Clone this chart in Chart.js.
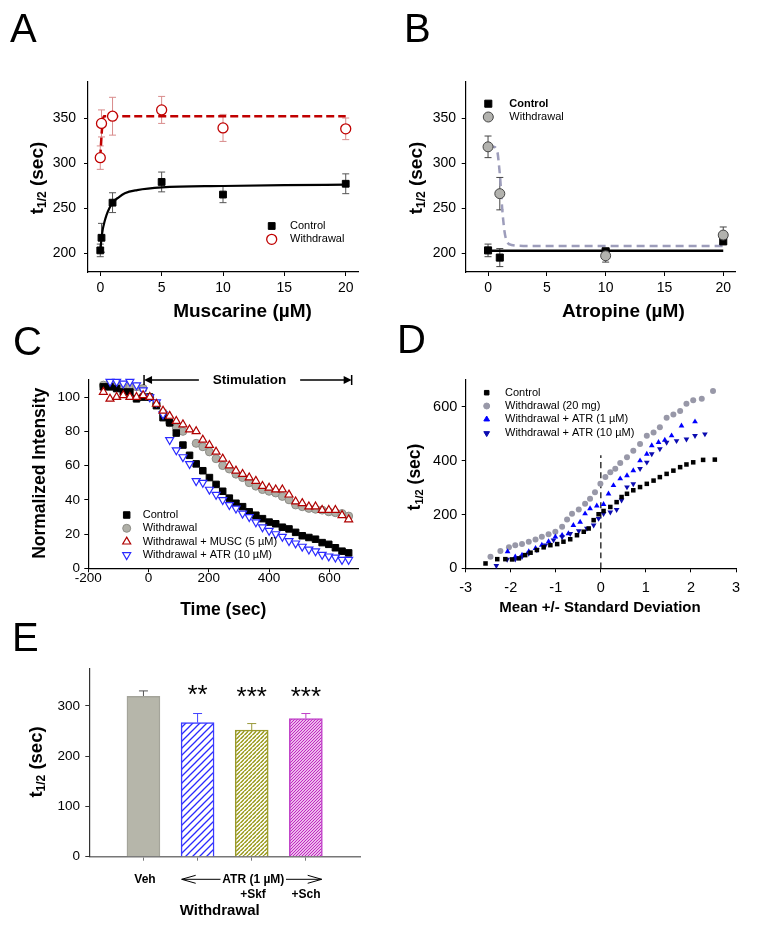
<!DOCTYPE html>
<html>
<head>
<meta charset="utf-8">
<script src="https://cdn.jsdelivr.net/npm/chart.js@4.4.0/dist/chart.umd.min.js"></script>
<style>
  body { margin: 0; background: #fff; }
  #fig { position: relative; width: 759px; height: 935px; }
  #fig canvas { position: absolute; }
</style>
</head>
<body>
<div id="fig">
  <canvas id="cA" width="380" height="330" style="left:0;top:0"></canvas>
  <canvas id="cB" width="379" height="330" style="left:380px;top:0"></canvas>
  <canvas id="cC" width="380" height="310" style="left:0;top:320px"></canvas>
  <canvas id="cD" width="379" height="310" style="left:380px;top:320px"></canvas>
  <canvas id="cE" width="380" height="320" style="left:0;top:615px"></canvas>
</div>
<script>
'use strict';

// ---------- A: muscarine ----------
const aDose = [0, 0.1, 1, 5, 10, 20];
const aCtrl = [203, 217, 256, 279, 265, 277];
const aCtrlErr = [7, 16, 11, 11, 9, 11];
const aWd = [306, 344, 352, 359, 339, 338];
const aWdErr = [13, 15, 21, 15, 15, 12];
const aCtrlFitX = [0, 0.1, 0.2, 0.35, 0.5, 0.75, 1, 1.5, 2, 3, 5, 10, 15, 20];
const aCtrlFitY = [203, 216, 226, 235, 242, 250, 256, 262, 266.5, 270, 273, 274.5, 275.5, 276];
const aWdFitX = [0, 0.1, 0.2, 0.3, 20];
const aWdFitY = [306, 330, 347, 352, 352];
const aTicksX = [0, 5, 10, 15, 20];
const aTicksY = [200, 250, 300, 350];

// ---------- B: atropine ----------
const bDose = [0, 1, 10, 20];
const bCtrl = [203, 195, 202, 213];
const bCtrlErr = [7, 10, 3, 3];
const bWd = [318, 266, 197, 220];
const bWdErr = [12, 18, 7, 9];
const bCtrlFitX = [0, 20];
const bCtrlFitY = [202.5, 202.5];
const bWdFitX = [0, 0.5, 0.8, 0.95, 1.05, 1.2, 1.4, 1.6, 2, 3, 20];
const bWdFitY = [319, 318, 312, 295, 280, 250, 224, 213, 209, 208, 208];
const bTicksX = [0, 5, 10, 15, 20];
const bTicksY = [200, 250, 300, 350];

// ---------- C: intensidade normalizada ----------
const cTime = [-150, -128, -106, -84, -62, -40, -18, 4, 26, 48, 70, 92, 114, 136, 158, 180, 202, 224, 246, 268,
               290, 312, 334, 356, 378, 400, 422, 444, 466, 488, 510, 532, 554, 576, 598, 620, 642, 664];
const cCtrl = [106, 106, 105, 103, 103, 99, 100, 100, 95, 88, 85, 79, 72, 66, 61, 57, 53, 49, 45, 41,
               38, 36, 33, 31, 29, 27, 26, 24, 23, 21, 19, 18, 17, 15, 14, 12, 10, 9];
const cWd = [107, 108, 107, 106, 106, 106, 105, 100, 96, 91, 85, 82, 80, null, 73, 71, 68, 64, 60, 58,
             55, 53, 50, 48, 46, 45, 44, 42, 40, 37, 36, 35, 34.5, 34, 33, 32.5, 32, 30.5];
const cMusc = [103, 99, 100, 101, 100, 100, 101, 100, 96, 92, 89, 86, 84, 81, 80, 75, 72, 68, 64, 60,
               57, 55, 53, 51, 48, 47, 46, 46, 43, 39, 38, 36, 36, 34, 34, 34, 31, 28.5];
const cAtr = [null, 109, 109, 108, 109, 107, 104, 100, 97, 90, 75, 69, 65, 61, 51, 50, 46, 43, 40, 37,
              35, 32, 30, 27, 24, 22, 20, 18.5, 16, 14.6, 12.7, 11, 10, 8, 7, 6.4, 5, 5];
const cTicksX = [-200, 0, 200, 400, 600];
const cTicksY = [0, 20, 40, 60, 80, 100];
const stimStart = -15, stimEnd = 674, stimLevel = 110;
const stimGap = [167, 503];

// ---------- D: distribuição ----------
const dCtrlX = [-2.56, -2.30, -2.12, -1.97, -1.82, -1.68, -1.56, -1.42, -1.27, -1.12, -0.97, -0.83, -0.68, -0.53, -0.38,
                -0.27, -0.16, -0.05, 0.06, 0.21, 0.35, 0.46, 0.58, 0.72, 0.87, 1.02, 1.17, 1.31, 1.46, 1.61, 1.76, 1.90, 2.05, 2.27, 2.53];
const dCtrlY = [18, 34, 34, 33, 37, 49, 58, 68, 78, 86, 90, 99, 108, 123, 136,
                148, 179, 201, 213, 228, 246, 265, 277, 290, 302, 314, 326, 339, 351, 363, 376, 386, 394, 403, 404];
const dWdX = [-2.45, -2.23, -2.04, -1.90, -1.75, -1.60, -1.45, -1.31, -1.16, -1.01, -0.86, -0.75, -0.64, -0.49, -0.35,
              -0.24, -0.13, -0.01, 0.10, 0.21, 0.32, 0.43, 0.58, 0.72, 0.87, 1.02, 1.17, 1.31, 1.46, 1.61, 1.76, 1.90, 2.05, 2.24, 2.49];
const dWdY = [43, 64, 78, 86, 90, 99, 107, 117, 127, 136, 154, 181, 203, 219, 240,
              259, 283, 314, 339, 357, 370, 391, 413, 437, 462, 493, 505, 524, 560, 572, 585, 612, 625, 630, 659];
const dAtr1X = [-2.07, -1.90, -1.75, -1.60, -1.45, -1.31, -1.16, -1.01, -0.86, -0.72, -0.61, -0.46, -0.35, -0.24, -0.09,
                0.06, 0.17, 0.28, 0.43, 0.58, 0.72, 0.87, 1.02, 1.13, 1.28, 1.42, 1.57, 1.79, 2.09];
const dAtr1Y = [62, 43, 49, 62, 74, 86, 99, 117, 123, 129, 160, 172, 203, 222, 232,
                238, 277, 308, 333, 345, 363, 400, 425, 456, 468, 477, 493, 530, 545];
const dAtr10X = [-2.32, -2.08, -1.90, -1.75, -1.60, -1.42, -1.23, -1.05, -0.86, -0.68, -0.49, -0.31, -0.16, -0.05, 0.06,
                 0.21, 0.35, 0.46, 0.58, 0.72, 0.87, 1.02, 1.13, 1.31, 1.46, 1.68, 1.90, 2.09, 2.31];
const dAtr10Y = [10, 33, 34, 43, 55, 68, 86, 105, 117, 129, 139, 148, 160, 185, 203,
                 209, 218, 253, 302, 314, 370, 394, 425, 444, 468, 474, 480, 493, 499];
const dZeroX = [0, 0];
const dZeroY = [0, 420];
const dTicksX = [-3, -2, -1, 0, 1, 2, 3];
const dTicksY = [0, 200, 400, 600];

// ---------- E: barras ----------
const eX = [1, 2, 3, 4];
const eVals = [319, 267, 252, 275];
const eErr = [11, 18, 13, 10];
const eStars = ['', '**', '***', '***'];
const eTicksX = [1, 2, 3, 4];
const eTicksY = [0, 100, 200, 300];

const FONT = '"Liberation Sans", Arial, Helvetica, sans-serif';
Chart.defaults.font.family = FONT;
Chart.defaults.color = '#000';
Chart.defaults.animation = false;
Chart.defaults.plugins.legend.display = false;
Chart.defaults.plugins.tooltip.enabled = false;

function pts(xs, ys)
{
    return xs.map((x, i) => ({ x: x, y: ys[i] }));
}

function fnt(size, bold)
{
    return (bold ? 'bold ' : '') + size + 'px ' + FONT;
}

// eixo linear com ticks fixos; box = largura (y) ou altura (x) reservada ao eixo
function linAxis(min, max, ticks, size, pad, box, col)
{
    return {
        type: 'linear', min: min, max: max, offset: false,
        afterBuildTicks: s => { s.ticks = ticks.map(v => ({ value: v })); },
        afterFit: s => { if (s.isHorizontal()) s.height = box; else s.width = box; },
        grid: { offset: false, drawOnChartArea: false, drawTicks: true, tickLength: 4, tickColor: col || '#000', tickWidth: 1 },
        border: { display: true, color: col || '#000', width: 1.2 },
        ticks: { font: { size: size }, color: '#000', padding: pad, autoSkip: false, maxRotation: 0 }
    };
}

function marks(xs, ys, style)
{
    return Object.assign({ data: pts(xs, ys), showLine: false, clip: false }, style);
}

function curve(xs, ys, color, width, dash)
{
    return {
        data: pts(xs, ys), showLine: true, pointRadius: 0, borderColor: color, borderWidth: width,
        borderDash: dash || [], cubicInterpolationMode: 'monotone', fill: false
    };
}

const errorBars = {
    id: 'errorBars',
    beforeDatasetsDraw(chart) {
        const ctx = chart.ctx, ys = chart.scales.y;
        chart.data.datasets.forEach((ds, i) => {
            if (!ds.errors) return;
            const meta = chart.getDatasetMeta(i);
            meta.data.forEach((el, j) => {
                const v = ds.data[j].y, e = ds.errors[j];
                if (v == null || !e) return;
                const x = el.x, c = ds.errorCap / 2;
                const top = ys.getPixelForValue(v + e);
                const bot = ds.errorUp ? ys.getPixelForValue(v) : ys.getPixelForValue(v - e);
                ctx.save();
                ctx.strokeStyle = Array.isArray(ds.errorColor) ? ds.errorColor[j] : ds.errorColor;
                ctx.lineWidth = ds.errorWidth || 1;
                ctx.beginPath();
                ctx.moveTo(x, top); ctx.lineTo(x, bot);
                ctx.moveTo(x - c, top); ctx.lineTo(x + c, top);
                if (!ds.errorUp) { ctx.moveTo(x - c, bot); ctx.lineTo(x + c, bot); }
                ctx.stroke();
                ctx.restore();
            });
        });
    }
};

// texto com partes (para o subscrito de t1/2), opcionalmente rodado
function drawText(ctx, t)
{
    const parts = t.parts || [[t.text, t.size, t.bold, 0]];
    ctx.save();
    ctx.translate(t.x, t.y);
    if (t.rotate) ctx.rotate(-Math.PI / 2);
    ctx.fillStyle = '#000';
    ctx.textBaseline = t.baseline || 'middle';
    ctx.textAlign = 'left';
    let w = 0;
    parts.forEach(p => { ctx.font = fnt(p[1], p[2]); w += ctx.measureText(p[0]).width; });
    let x = t.align === 'left' ? 0 : -w / 2;
    parts.forEach(p => {
        ctx.font = fnt(p[1], p[2]);
        ctx.fillText(p[0], x, p[3] || 0);
        x += ctx.measureText(p[0]).width;
    });
    ctx.restore();
}

function drawLegend(chart, lg)
{
    const ctx = chart.ctx;
    lg.entries.forEach((e, k) => {
        const ds = chart.data.datasets[e.ds];
        const y = lg.rows[k];
        ctx.save();
        ctx.fillStyle = ds.pointBackgroundColor;
        ctx.strokeStyle = ds.pointBorderColor;
        ctx.lineWidth = ds.pointBorderWidth || 1;
        Chart.helpers.drawPoint(ctx, {
            pointStyle: ds.pointStyle, radius: ds.pointRadius,
            rotation: ds.pointRotation || 0, borderWidth: ds.pointBorderWidth || 1
        }, lg.markerX, y);
        ctx.restore();
        ctx.save();
        ctx.font = fnt(lg.size, e.bold);
        ctx.fillStyle = '#000';
        ctx.textAlign = 'left';
        ctx.textBaseline = 'middle';
        ctx.fillText(e.label, lg.textX, y);
        ctx.restore();
    });
}

function extras(cfg)
{
    return {
        id: 'extras',
        afterDraw(chart) {
            const ctx = chart.ctx;
            (cfg.texts || []).forEach(t => drawText(ctx, t));
            if (cfg.legend) drawLegend(chart, cfg.legend);
            if (cfg.draw) { ctx.save(); cfg.draw(chart, ctx); ctx.restore(); }
        }
    };
}

function letter(ch, x, y)
{
    return { text: ch, size: 40, bold: false, x: x, y: y, align: 'left', baseline: 'alphabetic' };
}

function tHalf(x, y, size)
{
    return { x: x, y: y, rotate: true, parts: [['t', size, true, 0], ['1/2', Math.round(size * 0.63), true, size * 0.28], [' (sec)', size, true, 0]] };
}

function makeScatter(id, datasets, xAxis, yAxis, pad, cfg)
{
    return new Chart(document.getElementById(id), {
        type: 'scatter',
        data: { datasets: datasets },
        options: { responsive: false, layout: { padding: pad }, scales: { x: xAxis, y: yAxis } },
        plugins: [errorBars, extras(cfg)]
    });
}

// ---------- painel A ----------
makeScatter('cA', [
    marks(aDose, aWd, { pointStyle: 'circle', pointRadius: 5, pointBackgroundColor: '#fff', pointBorderColor: '#c00000',
        pointBorderWidth: 1.3, errors: aWdErr, errorColor: '#d98c8c', errorCap: 7 }),
    marks(aDose, aCtrl, { pointStyle: 'rect', pointRadius: 4.8, pointBackgroundColor: '#000', pointBorderColor: '#000',
        pointBorderWidth: 1, errors: aCtrlErr, errorColor: '#555', errorCap: 7 }),
    curve(aWdFitX, aWdFitY, '#c00000', 2.5, [8, 4]),
    curve(aCtrlFitX, aCtrlFitY, '#000', 2.2)
], linAxis(-1, 21, aTicksX, 14, 3.5, 58), linAxis(179, 390, aTicksY, 14, 8, 88),
{ left: 0, top: 82, right: 22, bottom: 0 },
{
    texts: [
        letter('A', 10, 42),
        { text: 'Muscarine (\u00b5M)', size: 19, bold: true, x: 242.5, y: 312 },
        tHalf(37.5, 178, 19)
    ],
    legend: { markerX: 271.7, textX: 290, rows: [226, 239.3], size: 11,
        entries: [{ ds: 1, label: 'Control' }, { ds: 0, label: 'Withdrawal' }] }
});

// ---------- painel B ----------
makeScatter('cB', [
    marks(bDose, bWd, { pointStyle: 'circle', pointRadius: 5, pointBackgroundColor: '#b2b2ae', pointBorderColor: '#444',
        pointBorderWidth: 1, errors: bWdErr, errorColor: '#444', errorCap: 7 }),
    marks(bDose, bCtrl, { pointStyle: 'rect', pointRadius: 5, pointBackgroundColor: '#000', pointBorderColor: '#000',
        pointBorderWidth: 1, errors: bCtrlErr, errorColor: '#444', errorCap: 7 }),
    curve(bWdFitX, bWdFitY, '#9d9dbb', 2.5, [8, 5]),
    curve(bCtrlFitX, bCtrlFitY, '#000', 2.5)
], linAxis(-1.9, 21, bTicksX, 14, 3.5, 58), linAxis(179, 390, bTicksY, 14, 5.7, 85.7),
{ left: 0, top: 82, right: 24, bottom: 0 },
{
    texts: [
        letter('B', 24, 42),
        { text: 'Atropine (\u00b5M)', size: 19, bold: true, x: 243.3, y: 312 },
        tHalf(36.7, 178, 19)
    ],
    legend: { markerX: 108.3, textX: 129.3, rows: [103.7, 117], size: 11,
        entries: [{ ds: 1, label: 'Control', bold: true }, { ds: 0, label: 'Withdrawal' }] }
});

// ---------- painel C ----------
makeScatter('cC', [
    marks(cTime, cMusc, { pointStyle: 'triangle', pointRadius: 4.6, pointBackgroundColor: '#fff', pointBorderColor: '#b00000', pointBorderWidth: 1.2 }),
    marks(cTime, cAtr, { pointStyle: 'triangle', pointRotation: 180, pointRadius: 4.6, pointBackgroundColor: '#fff', pointBorderColor: '#2a2aff', pointBorderWidth: 1.2 }),
    marks(cTime, cCtrl, { pointStyle: 'rect', pointRadius: 4.6, pointBackgroundColor: '#000', pointBorderColor: '#000', pointBorderWidth: 1 }),
    marks(cTime, cWd, { pointStyle: 'circle', pointRadius: 4, pointBackgroundColor: '#afafa7', pointBorderColor: '#8c8c86', pointBorderWidth: 1 })
], linAxis(-200, 695, cTicksX, 13.5, -2, 61.7), linAxis(0, 110, cTicksY, 13.5, 4.3, 88.3),
{ left: 0, top: 60, right: 22, bottom: 0 },
{
    texts: [
        letter('C', 13, 35),
        { text: 'Time (sec)', size: 17.5, bold: true, x: 223.3, y: 290 },
        { text: 'Normalized Intensity', size: 17.5, bold: true, x: 40.5, y: 153.3, rotate: true }
    ],
    legend: { markerX: 126.7, textX: 142.7, rows: [195, 208.3, 221.7, 235], size: 11,
        entries: [{ ds: 2, label: 'Control' }, { ds: 3, label: 'Withdrawal' },
                  { ds: 0, label: 'Withdrawal + MUSC (5 \u00b5M)' }, { ds: 1, label: 'Withdrawal + ATR (10 \u00b5M)' }] },
    draw: (chart, ctx) => {
        const xs = chart.scales.x, ys = chart.scales.y;
        const y = ys.getPixelForValue(stimLevel);
        const x0 = xs.getPixelForValue(stimStart), x1 = xs.getPixelForValue(stimEnd);
        const g0 = xs.getPixelForValue(stimGap[0]), g1 = xs.getPixelForValue(stimGap[1]);
        ctx.strokeStyle = '#000';
        ctx.fillStyle = '#000';
        ctx.lineWidth = 1.5;
        ctx.beginPath();
        ctx.moveTo(x0 + 6, y); ctx.lineTo(g0, y);
        ctx.moveTo(g1, y); ctx.lineTo(x1 - 6, y);
        ctx.moveTo(x0, y - 5); ctx.lineTo(x0, y + 5);
        ctx.moveTo(x1, y - 5); ctx.lineTo(x1, y + 5);
        ctx.stroke();
        ctx.beginPath();
        ctx.moveTo(x0, y); ctx.lineTo(x0 + 8, y - 4); ctx.lineTo(x0 + 8, y + 4); ctx.closePath();
        ctx.moveTo(x1, y); ctx.lineTo(x1 - 8, y - 4); ctx.lineTo(x1 - 8, y + 4); ctx.closePath();
        ctx.fill();
        drawText(ctx, { text: 'Stimulation', size: 13.5, bold: true, x: (g0 + g1) / 2, y: y });
    }
});

// ---------- painel D ----------
makeScatter('cD', [
    marks(dCtrlX, dCtrlY, { pointStyle: 'rect', pointRadius: 3.2, pointBackgroundColor: '#000', pointBorderColor: '#000', pointBorderWidth: 0 }),
    marks(dAtr10X, dAtr10Y, { pointStyle: 'triangle', pointRotation: 180, pointRadius: 3.3, pointBackgroundColor: '#0b0bb0', pointBorderColor: '#0b0bb0', pointBorderWidth: 0 }),
    marks(dAtr1X, dAtr1Y, { pointStyle: 'triangle', pointRadius: 3.3, pointBackgroundColor: '#0000ff', pointBorderColor: '#0000ff', pointBorderWidth: 0 }),
    marks(dWdX, dWdY, { pointStyle: 'circle', pointRadius: 3, pointBackgroundColor: '#9898a8', pointBorderColor: '#9898a8', pointBorderWidth: 0 }),
    curve(dZeroX, dZeroY, '#000', 1.2, [6, 4])
], linAxis(-3, 3, dTicksX, 14.5, 6.5, 61.7), linAxis(0, 700, dTicksY, 14.5, 4.4, 85.7),
{ left: 0, top: 60, right: 23, bottom: 0 },
{
    texts: [
        letter('D', 17, 33),
        { text: 'Mean +/- Standard Deviation', size: 15, bold: true, x: 220, y: 288.3 },
        tHalf(35, 157, 17.5)
    ],
    legend: { markerX: 106.7, textX: 125, rows: [72.7, 86, 99.3, 113.3], size: 11,
        entries: [{ ds: 0, label: 'Control' }, { ds: 3, label: 'Withdrawal (20 mg)' },
                  { ds: 2, label: 'Withdrawal + ATR (1 \u00b5M)' }, { ds: 1, label: 'Withdrawal + ATR (10 \u00b5M)' }] }
});

// ---------- painel E ----------
function hatch(color, gap, lw)
{
    const c = document.createElement('canvas');
    c.width = c.height = gap;
    const g = c.getContext('2d');
    g.fillStyle = '#fff';
    g.fillRect(0, 0, gap, gap);
    g.strokeStyle = color;
    g.lineWidth = lw;
    g.beginPath();
    g.moveTo(-1, gap + 1); g.lineTo(gap + 1, -1);
    g.moveTo(-1, 1); g.lineTo(1, -1);
    g.moveTo(gap - 1, gap + 1); g.lineTo(gap + 1, gap - 1);
    g.stroke();
    return g.createPattern(c, 'repeat');
}

const eAxisX = linAxis(0, 5, eTicksX, 13.5, 0, 78.3, '#777');
eAxisX.ticks.callback = () => '';
eAxisX.border.width = 1.5;

new Chart(document.getElementById('cE'), {
    type: 'bar',
    data: {
        datasets: [{
            data: pts(eX, eVals),
            backgroundColor: ['#b6b6aa', hatch('#2a2aff', 7, 1.3), hatch('#9a9a1c', 4.5, 1.5), hatch('#c020c0', 3, 1.2)],
            borderColor: ['#a4a49a', '#3a3aff', '#9a9a2a', '#c040c8'],
            borderWidth: 1.5,
            borderSkipped: 'bottom',
            barThickness: 33,
            errors: eErr, errorUp: true, errorCap: 9,
            errorColor: ['#555', '#4444ff', '#99993a', '#c040c8']
        }]
    },
    options: {
        responsive: false,
        layout: { padding: { left: 0, top: 53.3, right: 20, bottom: 0 } },
        scales: { x: eAxisX, y: linAxis(0, 375, eTicksY, 13.5, 5.3, 89.3, '#333') }
    },
    plugins: [errorBars, extras({
        texts: [
            letter('E', 12, 36),
            tHalf(36.7, 147, 18.5),
            { text: 'Veh', size: 12, bold: true, x: 145, y: 264.3 },
            { text: 'ATR (1 \u00b5M)', size: 12, bold: true, x: 253.3, y: 264.3 },
            { text: '+Skf', size: 12, bold: true, x: 253, y: 280 },
            { text: '+Sch', size: 12, bold: true, x: 306, y: 280 },
            { text: 'Withdrawal', size: 15, bold: true, x: 219.7, y: 296 }
        ],
        draw: (chart, ctx) => {
            const xs = chart.scales.x;
            eStars.forEach((s, i) => {
                if (!s) return;
                drawText(ctx, { text: s, size: 26, bold: false, x: xs.getPixelForValue(eX[i]), y: s.length === 2 ? 88 : 90, baseline: 'alphabetic' });
            });
            const y = 264.3;
            ctx.strokeStyle = '#000';
            ctx.lineWidth = 1;
            ctx.beginPath();
            ctx.moveTo(181.7, y); ctx.lineTo(220.5, y);
            ctx.moveTo(195.7, y - 4); ctx.lineTo(181.7, y); ctx.lineTo(195.7, y + 4);
            ctx.moveTo(286, y); ctx.lineTo(321.7, y);
            ctx.moveTo(307.7, y - 4); ctx.lineTo(321.7, y); ctx.lineTo(307.7, y + 4);
            ctx.stroke();
        }
    })]
});
</script>
</body>
</html>
